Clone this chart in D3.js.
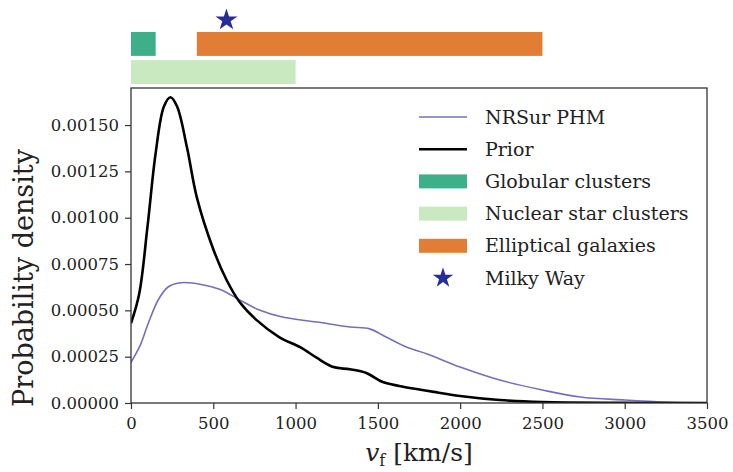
<!DOCTYPE html>
<html>
<head>
<meta charset="utf-8">
<script src="https://cdn.jsdelivr.net/npm/d3@7"></script>
<style>
  html, body { margin: 0; padding: 0; background: #fff; }
  svg { display: block; }
  text { font-family: "DejaVu Serif", serif; fill: #222; }
</style>
</head>
<body>
<svg id="chart" width="733" height="472"></svg>
<script>
// ---- data ----
const priorV = [0, 50, 100, 150, 200, 240, 280, 340, 400, 500, 580, 660, 760, 900, 1030, 1130, 1230, 1330, 1430, 1530, 1630, 1760, 1840, 2000, 2240, 2500, 3000, 3500];
const priorD = [0.00043, 0.00059, 0.00095, 0.00135, 0.00160, 0.00165, 0.00160, 0.00138, 0.00111, 0.00083, 0.000665, 0.000545, 0.00045, 0.000356, 0.0003, 0.000243, 0.000194, 0.000182, 0.000162, 0.000113, 0.000092, 0.000072, 0.00006, 0.000038, 0.000016, 0.000005, 0.000001, 0];

const nrV = [0, 55, 105, 165, 225, 290, 370, 450, 550, 660, 780, 920, 1130, 1330, 1450, 1550, 1680, 1800, 2000, 2240, 2500, 2730, 3000, 3250, 3500];
const nrD = [0.00022, 0.00031, 0.00043, 0.000556, 0.000626, 0.000648, 0.000648, 0.000635, 0.00061, 0.000556, 0.000502, 0.000464, 0.000437, 0.00041, 0.0004, 0.000356, 0.0003, 0.000265, 0.000194, 0.000124, 0.00007, 0.000032, 0.000016, 0.000005, 0.000001];

const rangeNames = ["Globular clusters", "Nuclear star clusters", "Elliptical galaxies"];
const rangeLo = [0, 0, 400];
const rangeHi = [150, 1000, 2500];
const rangeRow = [0, 1, 0];
const rangeColors = ["#3db08a", "#c9e9c0", "#e27d35"];
const milkyWayV = 580;

const xTicks = [0, 500, 1000, 1500, 2000, 2500, 3000, 3500];
const yTicks = [0, 0.00025, 0.0005, 0.00075, 0.001, 0.00125, 0.0015];

const legendNames = ["NRSur PHM", "Prior", "Globular clusters", "Nuclear star clusters", "Elliptical galaxies", "Milky Way"];

// ---- layout ----
const L = 131, R = 707, T = 88, B = 403;
const svg = d3.select("#chart");

const x = d3.scaleLinear().domain([0, 3500]).range([L, R]);
const y = d3.scaleLinear().domain([0, 0.0017]).range([B, T]);
const row = d3.scaleBand().domain([0, 1]).range([32, 84]).paddingInner(0.15);

// ---- top range bars ----
svg.append("g").selectAll("rect")
  .data(rangeNames.map((n, i) => ({n, lo: rangeLo[i], hi: rangeHi[i], r: rangeRow[i], c: rangeColors[i]})))
  .join("rect")
  .attr("x", d => x(d.lo))
  .attr("width", d => x(d.hi) - x(d.lo))
  .attr("y", d => row(d.r))
  .attr("height", row.bandwidth())
  .attr("fill", d => d.c);

const starColor = "#262d98";
svg.append("path")
  .attr("d", d3.symbol(d3.symbolStar, 150)())
  .attr("transform", `translate(${x(milkyWayV)},${20})`)
  .attr("fill", starColor);

// ---- axes ----
const fmt = d3.format(".5f");
const gx = svg.append("g").attr("transform", `translate(0,${B})`)
  .call(d3.axisBottom(x).tickValues(xTicks).tickSize(6).tickPadding(8).tickFormat(d3.format("d")));
const gy = svg.append("g").attr("transform", `translate(${L},0)`)
  .call(d3.axisLeft(y).tickValues(yTicks).tickSize(6).tickPadding(6).tickFormat(fmt));
[gx, gy].forEach(g => {
  g.attr("font-family", null);
  g.select(".domain").remove();
  g.selectAll("line").attr("stroke", "#333").attr("stroke-width", 1.2);
  g.selectAll("text").attr("font-size", 16.5).attr("fill", "#333");
});

// ---- curves ----
const line = d3.line().x(d => x(d[0])).y(d => y(d[1])).curve(d3.curveCatmullRom.alpha(0.5));
const nrData = nrV.map((v, i) => [v, nrD[i]]);
const priorData = priorV.map((v, i) => [v, priorD[i]]);

svg.append("defs").append("clipPath").attr("id", "clip")
  .append("rect").attr("x", L).attr("y", T).attr("width", R - L).attr("height", B - T);

const curves = svg.append("g").attr("clip-path", "url(#clip)");
curves.append("path").datum(nrData).attr("d", line)
  .attr("fill", "none").attr("stroke", "#7570b8").attr("stroke-width", 1.6);
curves.append("path").datum(priorData).attr("d", line)
  .attr("fill", "none").attr("stroke", "#000").attr("stroke-width", 2.6);

// frame
svg.append("rect").attr("x", L).attr("y", T).attr("width", R - L).attr("height", B - T)
  .attr("fill", "none").attr("stroke", "#333").attr("stroke-width", 1.3);

// ---- legend ----
const lg = svg.append("g");
const ly = d3.scalePoint().domain(legendNames).range([117, 278]);
const lx0 = 419, lx1 = 467, ltx = 485;
legendNames.forEach((n, i) => {
  const yy = ly(n);
  if (i === 0 || i === 1) {
    lg.append("line").attr("x1", lx0).attr("x2", lx1).attr("y1", yy).attr("y2", yy)
      .attr("stroke", i === 0 ? "#7570b8" : "#000").attr("stroke-width", i === 0 ? 1.6 : 2.6);
  } else if (i < 5) {
    lg.append("rect").attr("x", lx0).attr("y", yy - 7).attr("width", lx1 - lx0).attr("height", 14)
      .attr("fill", rangeColors[i - 2]);
  } else {
    lg.append("path").attr("d", d3.symbol(d3.symbolStar, 130)())
      .attr("transform", `translate(${(lx0 + lx1) / 2},${yy})`).attr("fill", starColor);
  }
  lg.append("text").attr("x", ltx).attr("y", yy).attr("dy", "0.35em")
    .attr("font-size", 19).text(n);
});

// ---- axis labels ----
const xl = svg.append("text").attr("x", (L + R) / 2).attr("y", 461)
  .attr("text-anchor", "middle").attr("font-size", 25);
xl.append("tspan").attr("font-style", "italic").text("v");
xl.append("tspan").attr("font-size", 16).attr("dy", 5).text("f");
xl.append("tspan").attr("dy", -5).text(" [km/s]");

svg.append("text").attr("transform", "translate(33,278) rotate(-90)")
  .attr("text-anchor", "middle").attr("font-size", 27).text("Probability density");
</script>
</body>
</html>
